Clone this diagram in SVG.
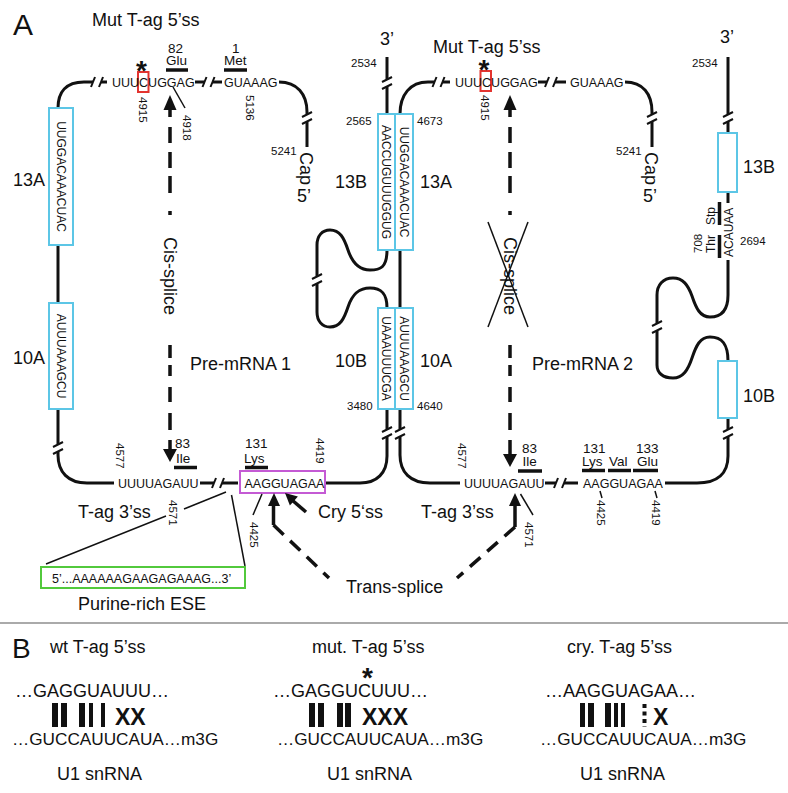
<svg xmlns="http://www.w3.org/2000/svg" width="788" height="793" viewBox="0 0 788 793">
<style>
text{font-family:"Liberation Sans",Arial,sans-serif;fill:#111}
.l{font-size:18px}
.s{font-size:12.5px}
.n{font-size:11.5px}
.aa{font-size:13.5px}
.bx{font-size:12px}
.ln{fill:none;stroke:#111;stroke-width:3}
.th{fill:none;stroke:#111;stroke-width:1.5}
.ds{fill:none;stroke:#111;stroke-width:3.5}
.dd{fill:none;stroke:#111;stroke-width:3.5;stroke-dasharray:14 9}
.cy{fill:#fff;stroke:#5cc6e6;stroke-width:2}
.bar{stroke:#111;stroke-width:3.5}
.ah{fill:#111}
.pb{fill:#111}
.xx{font-size:23px;font-weight:bold}
.ast{font-size:28px;font-weight:bold}
</style>
<defs>
<g id="bh"><line x1="-4" y1="0" x2="4" y2="0" stroke="#fff" stroke-width="6"/><line x1="-6" y1="5" x2="-2" y2="-5" stroke="#111" stroke-width="2"/><line x1="2" y1="5" x2="6" y2="-5" stroke="#111" stroke-width="2"/></g>
<g id="bv"><line x1="0" y1="-4" x2="0" y2="4" stroke="#fff" stroke-width="6"/><line x1="-5" y1="-1" x2="5" y2="-6" stroke="#111" stroke-width="2"/><line x1="-5" y1="6" x2="5" y2="1" stroke="#111" stroke-width="2"/></g>
</defs>
<rect width="788" height="793" fill="#fff"/>

<g id="labels-a">
<text x="13" y="35" font-size="30">A</text>
<text class="l" x="92" y="26">Mut T-ag 5’ss</text>
<text class="l" x="433" y="53">Mut T-ag 5’ss</text>
<text class="l" x="380" y="45">3’</text>
<text class="l" x="720" y="43">3’</text>
<text class="l" x="13" y="186">13A</text>
<text class="l" x="13" y="364">10A</text>
<text class="l" x="335" y="188">13B</text>
<text class="l" x="420" y="188">13A</text>
<text class="l" x="335" y="367">10B</text>
<text class="l" x="420" y="367">10A</text>
<text class="l" x="743" y="173">13B</text>
<text class="l" x="743" y="402">10B</text>
<text class="l" x="190" y="370">Pre-mRNA 1</text>
<text class="l" x="532" y="370">Pre-mRNA 2</text>
<text class="l" transform="translate(300,152) rotate(90)">Cap</text>
<text class="l" x="297" y="202">5’</text>
<text class="l" transform="translate(645,152) rotate(90)">Cap</text>
<text class="l" x="643" y="202">5’</text>
</g>

<g id="pre-mrna-1">
<path class="ln" d="M58,108 C58,92 66,82 84,82 L107,82"/>
<path class="ln" d="M195,82 L222,82"/>
<path class="ln" d="M279,82 C297,82 307,94 307,112 L307,147"/>
<path class="ln" d="M58,245 L58,303"/>
<path class="ln" d="M58,409 L58,455 C58,472 68,483 87,483 L114,483"/>
<path class="ln" d="M200,483 L238,483"/>
<path class="ln" d="M326,483 L360,483 C377,483 387,473 387,456 L387,409"/>
<path class="ln" d="M387,57 L387,114"/>
<path class="ln" d="M387,250 C387,268 380,270 370,270 C358,270 352,262 348,250 C344,238 340,230 330,230 C322,230 317,236 317,245 L317,312 C317,321 322,327 330,327 C340,327 344,319 348,307 C352,295 358,288 370,288 C380,288 387,292 387,308"/>
<use href="#bh" x="97" y="82"/>
<use href="#bh" x="208.5" y="82"/>
<use href="#bv" x="307" y="118"/>
<use href="#bv" x="58" y="448"/>
<use href="#bh" x="218" y="483"/>
<use href="#bv" x="387" y="433"/>
<use href="#bv" x="387" y="83"/>
<use href="#bv" x="317" y="280"/>
<rect class="cy" x="49" y="108" width="24" height="137"/>
<rect class="cy" x="49" y="303" width="24" height="106"/>
<rect class="cy" x="378" y="114" width="17" height="136"/>
<rect class="cy" x="378" y="308" width="17" height="101"/>
<text class="bx" text-anchor="middle" transform="translate(56.7,176.5) rotate(90)">UUGGACAAACUAC</text>
<text class="bx" text-anchor="middle" transform="translate(56.7,356) rotate(90)">AUUUAAAGCU</text>
<text class="bx" text-anchor="middle" transform="translate(382.2,182) rotate(90)">AACCUGUUUGGUG</text>
<text class="bx" text-anchor="middle" transform="translate(382.2,358.5) rotate(90)">UAAAUUUCGA</text>
<rect x="138" y="72" width="10.5" height="20" fill="none" stroke="#e3342f" stroke-width="2"/>
<text class="s" x="112" y="86.5">UUUCUGGAG</text>
<text class="s" x="224" y="86.5">GUAAAG</text>
<text class="s" x="118" y="487.5">UUUUAGAUU</text>
<rect x="240" y="471" width="85" height="22" fill="#fff" stroke="#c45ad4" stroke-width="2"/>
<text class="s" x="244.5" y="487.5">AAGGUAGAA</text>
<text class="ast" x="136" y="80">*</text>
<text class="aa" x="168" y="53">82</text>
<text class="aa" x="166" y="65">Glu</text>
<line class="bar" x1="166" y1="70" x2="188" y2="70"/>
<text class="aa" x="232" y="53">1</text>
<text class="aa" x="224" y="65">Met</text>
<line class="bar" x1="224" y1="70" x2="247" y2="70"/>
<text class="aa" x="175" y="448">83</text>
<text class="aa" x="176" y="463">Ile</text>
<line class="bar" x1="174" y1="467.5" x2="197" y2="467.5"/>
<text class="aa" x="245" y="448">131</text>
<text class="aa" x="244" y="463">Lys</text>
<line class="bar" x1="245" y1="467.5" x2="268" y2="467.5"/>
<text class="n" transform="translate(138.5,97) rotate(90)">4915</text>
<text class="n" transform="translate(246,95) rotate(90)">5136</text>
<text class="n" transform="translate(182.5,115) rotate(90)">4918</text>
<text class="n" x="351" y="67">2534</text>
<text class="n" x="346" y="125">2565</text>
<text class="n" x="271" y="155">5241</text>
<text class="n" x="347" y="410">3480</text>
<text class="n" transform="translate(115.5,443) rotate(90)">4577</text>
<text class="n" transform="translate(315.5,438) rotate(90)">4419</text>
<text class="n" transform="translate(249.5,522) rotate(90)">4425</text>
<text class="n" transform="translate(168.5,500) rotate(90)">4571</text>
</g>

<g id="pre-mrna-2">
<path class="ln" d="M400,114 C400,95 410,82 428,82 L450,82"/>
<path class="ln" d="M538,82 L566,82"/>
<path class="ln" d="M625,82 C643,82 652,94 652,112 L652,147"/>
<path class="ln" d="M400,250 L400,308"/>
<path class="ln" d="M400,409 L400,455 C400,472 410,483 430,483 L460,483"/>
<path class="ln" d="M545,483 L578,483"/>
<path class="ln" d="M665,483 L697,483 C718,483 728,473 728,456 L728,418"/>
<path class="ln" d="M728,57 L728,133"/>
<path class="ln" d="M728,192 L728,203"/>
<path class="ln" d="M728,260 L728,295 C728,310 722,317 710,317 C700,317 696,308 692,296 C688,285 683,278 673,278 C663,278 657,285 657,295 L657,365 C657,373 663,378 673,378 C683,378 688,370 692,358 C696,346 700,337 710,337 C722,337 728,344 728,361"/>
<use href="#bh" x="438.5" y="82"/>
<use href="#bh" x="551" y="82"/>
<use href="#bv" x="652" y="118"/>
<use href="#bv" x="400" y="433"/>
<use href="#bh" x="560" y="483"/>
<use href="#bv" x="728" y="433"/>
<use href="#bv" x="728" y="118"/>
<use href="#bv" x="657" y="327"/>
<rect class="cy" x="395" y="114" width="18" height="136"/>
<rect class="cy" x="395" y="308" width="18" height="101"/>
<rect class="cy" x="718" y="133" width="19" height="59"/>
<rect class="cy" x="718" y="361" width="19" height="57"/>
<text class="bx" text-anchor="middle" transform="translate(399.7,182) rotate(90)">UUGGACAAACUAC</text>
<text class="bx" text-anchor="middle" transform="translate(399.7,358.5) rotate(90)">AUUUAAAGCU</text>
<rect x="480.5" y="71" width="10.5" height="20" fill="none" stroke="#e3342f" stroke-width="2"/>
<text class="s" x="455" y="86.5">UUUCUGGAG</text>
<text class="s" x="570" y="86.5">GUAAAG</text>
<text class="s" x="464" y="487.5">UUUUAGAUU</text>
<text class="s" x="583" y="487.5">AAGGUAGAA</text>
<text class="ast" x="478.5" y="79">*</text>
<text class="aa" x="522" y="453">83</text>
<text class="aa" x="522.5" y="466">Ile</text>
<line class="bar" x1="518" y1="471" x2="542" y2="471"/>
<text class="aa" x="583" y="453">131</text>
<text class="aa" x="636" y="453">133</text>
<text class="aa" x="582" y="466">Lys</text>
<text class="aa" x="609" y="466">Val</text>
<text class="aa" x="637" y="466">Glu</text>
<line class="bar" x1="582" y1="470.5" x2="605" y2="470.5"/>
<line class="bar" x1="608" y1="470.5" x2="631" y2="470.5"/>
<line class="bar" x1="633" y1="470.5" x2="658" y2="470.5"/>
<text class="bx" transform="translate(733,257) rotate(-90)">ACAUAA</text>
<line class="bar" x1="719.5" y1="202" x2="719.5" y2="225"/>
<line class="bar" x1="719.5" y1="235" x2="719.5" y2="258"/>
<text class="bx" transform="translate(715,225) rotate(-90)">Stp</text>
<text class="bx" transform="translate(715,253) rotate(-90)">Thr</text>
<text class="n" transform="translate(702,253) rotate(-90)">708</text>
<text class="n" x="740" y="245">2694</text>
<text class="n" x="692" y="67">2534</text>
<text class="n" x="417" y="125">4673</text>
<text class="n" x="616" y="155">5241</text>
<text class="n" x="417" y="410">4640</text>
<text class="n" transform="translate(480.5,95) rotate(90)">4915</text>
<text class="n" transform="translate(457.5,443) rotate(90)">4577</text>
<text class="n" transform="translate(525,522) rotate(90)">4571</text>
<text class="n" transform="translate(597,500) rotate(90)">4425</text>
<text class="n" transform="translate(652,500) rotate(90)">4419</text>
</g>

<g id="connectors">
<path class="ds" d="M170,104 L170,117 M170,127 L170,143 M170,152 L170,168 M170,176 L170,193 M170,211 L170,215"/>
<path class="ds" d="M170,345 L170,358 M170,365 L170,376 M170,387 L170,402 M170,413 L170,430 M170,440 L170,452"/>
<polygon class="ah" points="170,95 176.5,110 163.5,110"/>
<polygon class="ah" points="170,462 177,449 163,449"/>
<text class="l" font-size="18.5" transform="translate(163.5,237) rotate(90)">Cis-splice</text>
<path class="ds" d="M510,104 L510,117 M510,127 L510,143 M510,152 L510,168 M510,176 L510,193 M510,211 L510,215"/>
<path class="ds" d="M510,345 L510,358 M510,365 L510,376 M510,387 L510,402 M510,413 L510,430 M510,440 L510,456"/>
<polygon class="ah" points="510,95 516.5,110 503.5,110"/>
<polygon class="ah" points="510,467 517,454 503,454"/>
<text class="l" font-size="18.5" transform="translate(503.5,237) rotate(90)">Cis-splice</text>
<line class="th" x1="488" y1="222" x2="528" y2="327"/>
<line class="th" x1="528" y1="222" x2="488" y2="327"/>
<line class="th" x1="173" y1="87" x2="185" y2="108"/>
<line class="th" x1="46" y1="564" x2="166" y2="516"/>
<line class="th" x1="184" y1="509" x2="226" y2="492"/>
<line class="th" x1="231.5" y1="495" x2="245" y2="566"/>
<line class="th" x1="262" y1="494" x2="253" y2="515"/>
<line class="th" x1="520.5" y1="494" x2="533" y2="515"/>
<line class="th" x1="600" y1="491" x2="602" y2="498"/>
<line class="th" x1="655" y1="491" x2="657" y2="498"/>
<path class="ds" d="M273.5,503 L273.5,525"/>
<path class="dd" d="M273.5,525 L329,578"/>
<polygon class="ah" points="274,493 280,506 268,506"/>
<path class="ds" d="M515,503 L515,527"/>
<path class="dd" d="M515,527 L457,578"/>
<polygon class="ah" points="515,493 521,506 509,506"/>
<path class="ds" d="M306,512 L292,500"/>
<polygon class="ah" points="285,493 297.9,496.6 289.9,505.6"/>
</g>

<g id="labels-bottom-a">
<text class="l" x="78" y="518">T-ag 3’ss</text>
<text class="l" x="318" y="518">Cry 5‘ss</text>
<text class="l" x="421" y="518">T-ag 3’ss</text>
<text class="l" x="346" y="593">Trans-splice</text>
</g>

<g id="ese">
<rect x="41" y="567" width="204" height="21" fill="#fff" stroke="#52c93c" stroke-width="2"/>
<text class="s" x="52" y="582.5">5’...AAAAAAGAAGAGAAAG...3’</text>
<text class="l" x="78" y="610">Purine-rich ESE</text>
</g>

<line x1="0" y1="623" x2="788" y2="623" stroke="#aaa" stroke-width="2"/>

<g id="panel-b">
<text x="12" y="658" font-size="28">B</text>
<g id="wt">
<text class="l" x="50" y="653">wt T-ag 5’ss</text>
<text class="l" x="15" y="697" font-size="18.3">…GAGGUAUUU…</text>
<rect class="pb" x="52" y="703" width="6" height="24"/>
<rect class="pb" x="61" y="703" width="6" height="24"/>
<rect class="pb" x="79" y="703" width="6" height="24"/>
<rect class="pb" x="89" y="703" width="4" height="24"/>
<rect class="pb" x="101" y="703" width="4" height="24"/>
<text class="xx" x="115" y="725">XX</text>
<text x="12" y="745" font-size="17.2">…GUCCAUUCAUA…m3G</text>
<text class="l" x="57" y="780">U1 snRNA</text>
</g>
<g id="mut">
<text class="l" x="312" y="653">mut. T-ag 5’ss</text>
<text class="ast" x="362" y="687">*</text>
<text class="l" x="273" y="697" font-size="18.3">…GAGGUCUUU…</text>
<rect class="pb" x="309" y="703" width="6" height="24"/>
<rect class="pb" x="318" y="703" width="6" height="24"/>
<rect class="pb" x="337" y="703" width="6" height="24"/>
<rect class="pb" x="345" y="703" width="6" height="24"/>
<text class="xx" x="362" y="725">XXX</text>
<text x="277" y="745" font-size="17.2">…GUCCAUUCAUA…m3G</text>
<text class="l" x="327" y="780">U1 snRNA</text>
</g>
<g id="cry">
<text class="l" x="567" y="653">cry. T-ag 5’ss</text>
<text class="l" x="545" y="697" font-size="18.2">…AAGGUAGAA…</text>
<rect class="pb" x="580" y="703" width="5" height="24"/>
<rect class="pb" x="588" y="703" width="6" height="24"/>
<rect class="pb" x="605" y="703" width="6" height="24"/>
<rect class="pb" x="614" y="703" width="4" height="24"/>
<rect class="pb" x="621" y="703" width="4" height="24"/>
<line x1="644.5" y1="704" x2="644.5" y2="727" stroke="#111" stroke-width="4" stroke-dasharray="4 3.5"/>
<text class="xx" x="653" y="725">X</text>
<text x="540" y="745" font-size="17.2">…GUCCAUUCAUA…m3G</text>
<text class="l" x="580" y="780">U1 snRNA</text>
</g>
</g>
</svg>
